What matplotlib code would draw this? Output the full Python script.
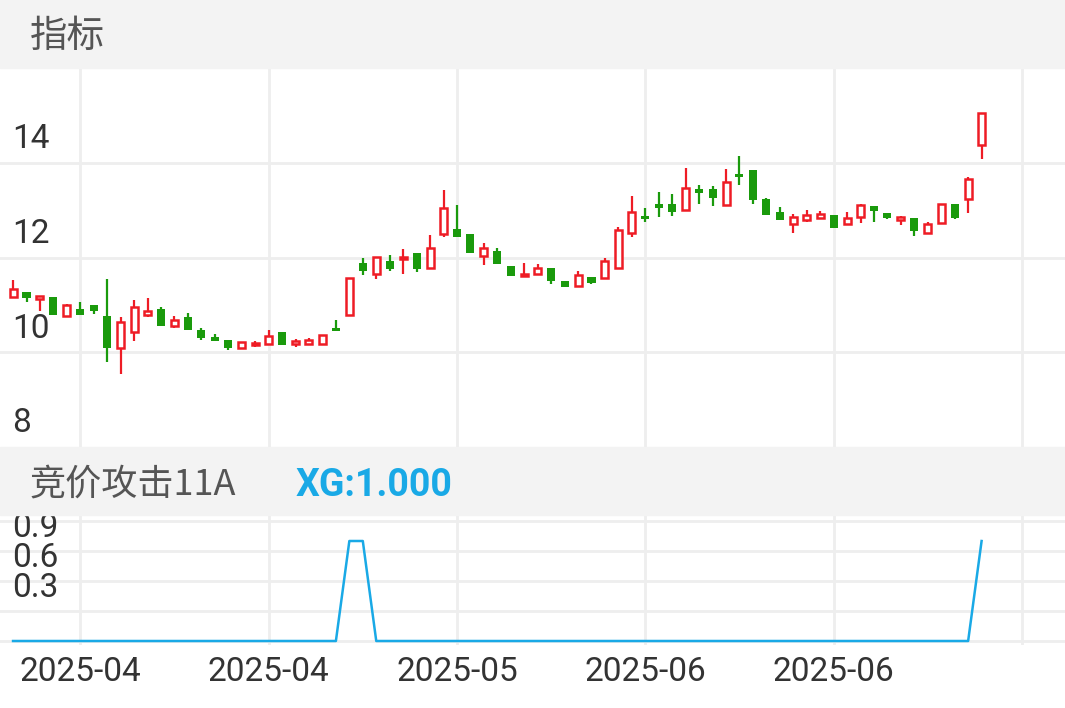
import matplotlib
matplotlib.use("Agg")
import matplotlib.pyplot as plt
import matplotlib.transforms as mtransforms

plt.rcParams['font.family'] = ['Roboto', 'Noto Sans CJK SC', 'DejaVu Sans']

# daily candles (open, high, low, close)
opens = [11.17, 11.27, 11.13, 11.17, 10.77, 10.91, 11.00, 10.77, 10.09, 10.43,
         10.79, 10.91, 10.55, 10.74, 10.47, 10.32, 10.26, 10.09, 10.15, 10.17,
         10.43, 10.17, 10.17, 10.17, 10.51, 10.79, 11.89, 11.65, 11.93, 11.97,
         12.10, 11.78, 12.50, 12.60, 12.50, 12.03, 12.14, 11.82, 11.61, 11.65,
         11.78, 11.51, 11.40, 11.59, 11.57, 11.78, 12.52, 12.88, 13.13, 13.13,
         13.01, 13.45, 13.45, 13.11, 13.77, 13.85, 13.24, 12.96, 12.71, 12.80,
         12.84, 12.90, 12.71, 12.86, 13.09, 12.94, 12.80, 12.84, 12.52, 12.73,
         13.13, 13.24, 14.38]
highs = [11.53, 11.27, 11.17, 11.17, 11.02, 11.06, 11.00, 11.55, 10.74, 11.10,
         11.15, 10.96, 10.77, 10.83, 10.51, 10.39, 10.26, 10.22, 10.24, 10.47,
         10.43, 10.28, 10.30, 10.36, 10.68, 11.57, 11.99, 12.01, 12.06, 12.18,
         12.10, 12.48, 13.43, 13.11, 12.50, 12.31, 12.20, 11.82, 11.89, 11.86,
         11.78, 11.51, 11.72, 11.59, 11.99, 12.65, 13.30, 13.05, 13.39, 13.34,
         13.89, 13.53, 13.51, 13.87, 14.15, 13.85, 13.26, 13.07, 12.92, 13.01,
         12.99, 12.90, 12.96, 13.13, 13.09, 12.94, 12.88, 12.84, 12.75, 13.13,
         13.13, 13.70, 15.04]
lows = [11.15, 11.06, 10.87, 10.79, 10.77, 10.79, 10.81, 9.79, 9.54, 10.24,
        10.74, 10.55, 10.51, 10.47, 10.26, 10.24, 10.05, 10.07, 10.11, 10.17,
        10.15, 10.11, 10.17, 10.17, 10.45, 10.79, 11.63, 11.55, 11.72, 11.65,
        11.70, 11.78, 12.44, 12.44, 12.10, 11.84, 11.86, 11.61, 11.61, 11.65,
        11.44, 11.38, 11.40, 11.44, 11.57, 11.78, 12.44, 12.75, 12.86, 12.88,
        13.01, 13.13, 13.09, 13.11, 13.53, 13.13, 12.90, 12.80, 12.52, 12.75,
        12.82, 12.63, 12.71, 12.73, 12.75, 12.82, 12.69, 12.46, 12.52, 12.73,
        12.82, 12.94, 14.08]
closes = [11.34, 11.15, 11.17, 10.79, 11.00, 10.79, 10.87, 10.09, 10.64, 10.96,
          10.87, 10.55, 10.68, 10.47, 10.30, 10.24, 10.09, 10.22, 10.19, 10.34,
          10.15, 10.24, 10.26, 10.36, 10.45, 11.57, 11.72, 12.01, 11.76, 11.99,
          11.76, 12.20, 13.05, 12.44, 12.10, 12.20, 11.86, 11.61, 11.65, 11.78,
          11.51, 11.38, 11.63, 11.46, 11.93, 12.58, 12.96, 12.82, 13.05, 12.96,
          13.47, 13.37, 13.26, 13.60, 13.70, 13.22, 12.90, 12.80, 12.86, 12.90,
          12.92, 12.63, 12.84, 13.11, 12.99, 12.84, 12.84, 12.56, 12.71, 13.13,
          12.84, 13.66, 15.04]
# 竞价攻击11A signal
xg = [0] * 73
for i in (25, 26, 72):
    xg[i] = 1.0

tick_idx = [5, 19, 33, 47, 61]
tick_labels = ["2025-04", "2025-04", "2025-05", "2025-06", "2025-06"]

RED = "#ee1c25"
GREEN = "#1a9a0c"
BLUE = "#19a9e6"
GRID = "#eeeeee"
BAND = "#f3f3f3"
TXT = "#333333"
XLIM = (-0.97, 78.2)
NUMSIZE = 24

fig = plt.figure(figsize=(10.65, 7.08), dpi=100)

# header bands
fig.patches.append(plt.Rectangle((0, 1 - 68 / 708), 1, 68 / 708, transform=fig.transFigure, color=BAND, zorder=0))
fig.patches.append(plt.Rectangle((0, 1 - 515 / 708), 1, 68 / 708, transform=fig.transFigure, color=BAND, zorder=0))
fig.text(30 / 1065, 1 - 36 / 708, "指标", fontsize=27, color="#555555", va="center",
         family=['Noto Sans CJK SC'])
fig.text(30 / 1065, 1 - 485 / 708, "竞价攻击11A", fontsize=26, color="#555555", va="center",
         family=['Noto Sans CJK SC'])
fig.text(296 / 1065, 1 - 485 / 708, "XG:1.000", fontsize=27, color=BLUE, fontweight="bold", va="center")

ax = fig.add_axes([0, 1 - 447 / 708, 1, (447 - 68) / 708])
ax.set_xlim(*XLIM)
ax.set_ylim(8, 16)
for v in (10, 12, 14):
    ax.axhline(v, color=GRID, lw=2, zorder=0)
for t in tick_idx + [75]:
    ax.axvline(t, color=GRID, lw=2, zorder=0)
trans = mtransforms.blended_transform_factory(ax.transAxes, ax.transData)
for v in (8, 10, 12, 14):
    ax.text(0.011, v + 0.5, str(v), transform=trans, fontsize=NUMSIZE, color=TXT, va="center")

for i in range(len(opens)):
    o, h, l, c = opens[i], highs[i], lows[i], closes[i]
    up = c >= o
    col = RED if up else GREEN
    ax.vlines(i, l, h, color=col, lw=1.6, zorder=2)
    bot = min(o, c)
    hgt = max(abs(c - o), 0.05)
    if up:
        ax.bar(i, hgt, bottom=bot, width=0.52, facecolor="white", edgecolor=col, linewidth=1.8, zorder=3)
    else:
        ax.bar(i, hgt, bottom=bot, width=0.6, color=col, linewidth=0, zorder=3)
ax.axis("off")

ax2 = fig.add_axes([0, 1 - 645 / 708, 1, (645 - 515) / 708])
ax2.set_xlim(*XLIM)
ax2.set_ylim(-0.04, 1.26)
for v in (0, 0.3, 0.6, 0.9, 1.2):
    ax2.axhline(v, color=GRID, lw=2, zorder=0)
for t in tick_idx + [75]:
    ax2.axvline(t, color=GRID, lw=2, zorder=0)
trans2 = mtransforms.blended_transform_factory(ax2.transAxes, ax2.transData)
for v in (0.3, 0.6, 0.9):
    ax2.text(0.011, v + 0.23, f"{v:.1f}", transform=trans2, fontsize=NUMSIZE, color=TXT,
             va="center", zorder=5)
ax2.plot(range(len(xg)), xg, color=BLUE, lw=1.8, zorder=3)
trans3 = mtransforms.blended_transform_factory(ax2.transData, ax2.transAxes)
for t, lab in zip(tick_idx, tick_labels):
    ax2.text(t, -0.21, lab, transform=trans3, fontsize=NUMSIZE, color=TXT, ha="center", va="center")
ax2.axis("off")

fig.savefig("out.png", dpi=100)
